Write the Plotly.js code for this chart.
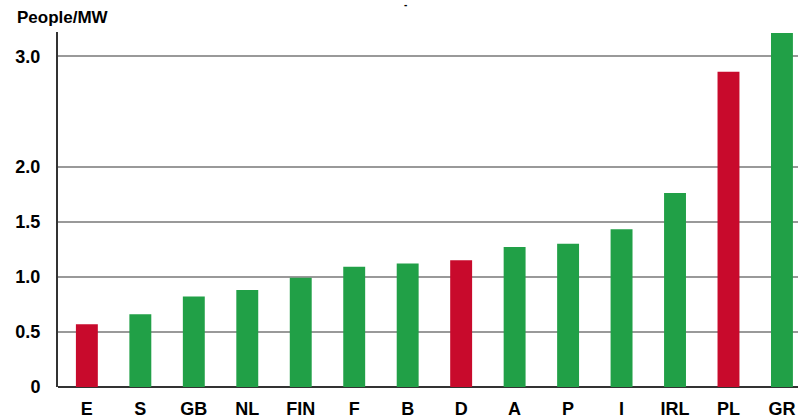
<!DOCTYPE html>
<html>
<head>
<meta charset="utf-8">
<script src="https://cdn.plot.ly/plotly-3.0.1.min.js"></script>
<style>
html,body{margin:0;padding:0;background:#fff;}
#chart{width:803px;height:419px;}
</style>
</head>
<body>
<div id="chart"></div>
<script>
// Data
const countries = ["E","S","GB","NL","FIN","F","B","D","A","P","I","IRL","PL","GR"];
const peoplePerMW = [0.57,0.66,0.82,0.88,0.99,1.09,1.12,1.15,1.27,1.30,1.43,1.76,2.86,3.21];
const highlighted = ["E","D","PL"];
const yTickVals = [0,0.5,1.0,1.5,2.0,3.0];
const yTickText = ["0","0.5","1.0","1.5","2.0","3.0"];

const RED = "#c80a2c";
const GREEN = "#21a047";
const barColors = countries.map(c => highlighted.includes(c) ? RED : GREEN);

const trace = {
  type: "bar",
  x: countries,
  y: peoplePerMW,
  marker: {color: barColors, line: {width: 0}},
  hoverinfo: "x+y"
};

const layout = {
  width: 803,
  height: 419,
  margin: {l: 58, r: 5, t: 32, b: 32},
  paper_bgcolor: "#ffffff",
  plot_bgcolor: "#ffffff",
  showlegend: false,
  bargap: 0.59,
  font: {family: "Liberation Sans, Arial, sans-serif", color: "#000"},
  xaxis: {
    type: "category",
    range: [-0.54, 13.3],
    showgrid: false,
    showline: false,
    zeroline: false,
    ticks: "",
    tickfont: {size: 18, family: "Liberation Sans, Arial, sans-serif", weight: "bold", color: "#000"},
    ticklabelstandoff: 9
  },
  yaxis: {
    range: [0, 3.22],
    tickmode: "array",
    tickvals: yTickVals,
    ticktext: yTickText,
    showgrid: true,
    gridcolor: "#999999",
    gridwidth: 2,
    showline: true,
    linecolor: "#333333",
    linewidth: 2,
    zeroline: true,
    zerolinecolor: "#333333",
    zerolinewidth: 2,
    ticks: "",
    ticklabelstandoff: 12,
    tickfont: {size: 18, family: "Liberation Sans, Arial, sans-serif", weight: "bold", color: "#000"}
  },
  annotations: [
    {
      text: "<b>People/MW</b>",
      xref: "paper", yref: "paper",
      x: -0.058, y: 1.0, yshift: 15,
      xanchor: "left", yanchor: "middle",
      showarrow: false,
      font: {size: 17, family: "Liberation Sans, Arial, sans-serif", color: "#000"}
    },
    {
      text: "<b>-</b>",
      xref: "paper", yref: "paper",
      x: 0.469, y: 1.0, yshift: 28,
      xanchor: "center", yanchor: "middle",
      showarrow: false,
      font: {size: 10, family: "Liberation Sans, Arial, sans-serif", color: "#000"}
    }
  ]
};

Plotly.newPlot("chart", [trace], layout, {displayModeBar: false, staticPlot: true});
</script>
</body>
</html>
